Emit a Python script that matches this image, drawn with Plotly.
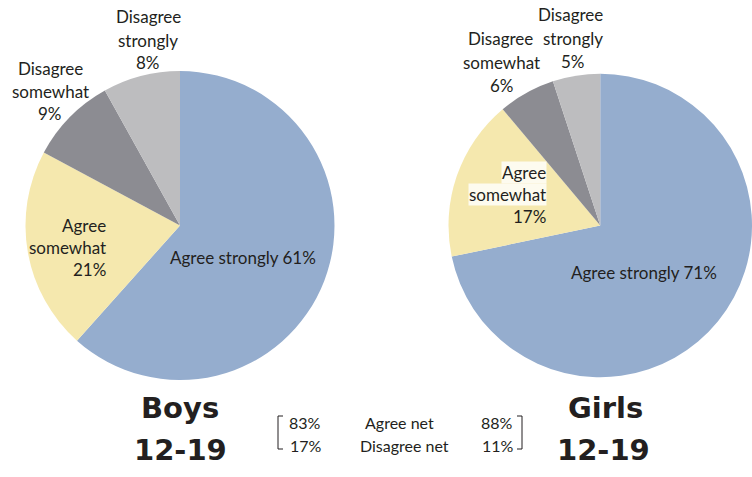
import plotly.graph_objects as go

W, H = 752, 477

categories = ["Agree strongly", "Agree somewhat", "Disagree somewhat", "Disagree strongly"]
boys_values = [61, 21, 9, 8]
girls_values = [71, 17, 6, 5]
slice_colors = ["#95adce", "#f5e8ae", "#8c8c92", "#bdbdbf"]

net_labels = ["Agree net", "Disagree net"]
boys_net = [83, 17]
girls_net = [88, 11]
group_titles = [["Boys", "12-19"], ["Girls", "12-19"]]

TXT = "#231f20"
FONT = "Lato"
TITLE_FONT = "DejaVu Sans"


def px(x):
    return x / W


def py(y):
    return 1 - y / H


fig = go.Figure()

# Boys pie: center (180, 225.5), r 154.5
fig.add_trace(go.Pie(
    labels=categories, values=boys_values, sort=False, direction="clockwise",
    rotation=0, textinfo="none", hoverinfo="label+value",
    marker=dict(colors=slice_colors, line=dict(width=0)),
    domain=dict(x=[px(25.5), px(334.5)], y=[py(380), py(71)]),
    showlegend=False,
))
# Girls pie
fig.add_trace(go.Pie(
    labels=categories, values=girls_values, sort=False, direction="clockwise",
    rotation=0, textinfo="none", hoverinfo="label+value",
    marker=dict(colors=slice_colors, line=dict(width=0)),
    domain=dict(x=[px(448.5), 1.0], y=[py(380), py(71)]),
    showlegend=False,
))

annotations = []


def add_text(text, x, y, size=17, xanchor="center", bg=None, weight=None, family=FONT):
    f = dict(family=family, size=size, color=TXT)
    if weight:
        f["weight"] = weight
    a = dict(text=text, x=px(x), y=py(y), xref="paper", yref="paper",
             xanchor=xanchor, yanchor="middle", showarrow=False, font=f,
             borderpad=0)
    if bg:
        a["bgcolor"] = bg
    annotations.append(a)


# Boys labels
add_text("Disagree", 148, 17)
add_text("strongly", 148, 40)
add_text(f"{boys_values[3]}%", 148, 62)
add_text("Disagree", 50, 68)
add_text("somewhat", 50, 91)
add_text(f"{boys_values[2]}%", 50, 113)
add_text("Agree", 107, 225, xanchor="right")
add_text("somewhat", 107, 247, xanchor="right")
add_text(f"{boys_values[1]}%", 107, 269, xanchor="right")
add_text(f"Agree strongly {boys_values[0]}%", 243, 257)

# Girls labels
add_text("Disagree", 570, 15)
add_text("strongly", 573, 39)
add_text(f"{girls_values[3]}%", 573, 61)
add_text("Disagree", 500, 39)
add_text("somewhat", 502, 62)
add_text(f"{girls_values[2]}%", 502, 85)
wbg = "rgba(255,255,255,0.8)"
add_text("Agree", 547, 172, xanchor="right", bg=wbg)
add_text("somewhat", 547, 194, xanchor="right", bg=wbg)
add_text(f"{girls_values[1]}%", 547, 216, xanchor="right")
add_text(f"Agree strongly {girls_values[0]}%", 644, 272)

# Group titles
add_text(group_titles[0][0], 180, 408, size=29, weight="bold", family=TITLE_FONT)
add_text(group_titles[0][1], 180, 450, size=29, weight="bold", family=TITLE_FONT)
add_text(group_titles[1][0], 605, 408, size=29, weight="bold", family=TITLE_FONT)
add_text(group_titles[1][1], 603, 450, size=29, weight="bold", family=TITLE_FONT)

# Net summary
add_text(f"{boys_net[0]}%", 305, 422, size=16)
add_text(f"{boys_net[1]}%", 306, 445, size=16)
add_text(net_labels[0], 399, 422, size=16)
add_text(net_labels[1], 404, 445, size=16)
add_text(f"{girls_net[0]}%", 497, 422, size=16)
add_text(f"{girls_net[1]}%", 498, 445, size=16)

shapes = [
    dict(type="path", xref="paper", yref="paper",
         path=f"M {px(283)} {py(416)} L {px(278)} {py(416)} L {px(278)} {py(449)} L {px(283)} {py(449)}",
         line=dict(color=TXT, width=1)),
    dict(type="path", xref="paper", yref="paper",
         path=f"M {px(517)} {py(416)} L {px(522)} {py(416)} L {px(522)} {py(449)} L {px(517)} {py(449)}",
         line=dict(color=TXT, width=1)),
]

fig.update_layout(
    width=W, height=H,
    margin=dict(l=0, r=0, t=0, b=0),
    paper_bgcolor="white", plot_bgcolor="white",
    annotations=annotations, shapes=shapes,
    font=dict(family=FONT, color=TXT),
)

fig.write_html("out.html", config={"displayModeBar": False},
               post_script="document.body.style.margin='0px';")
